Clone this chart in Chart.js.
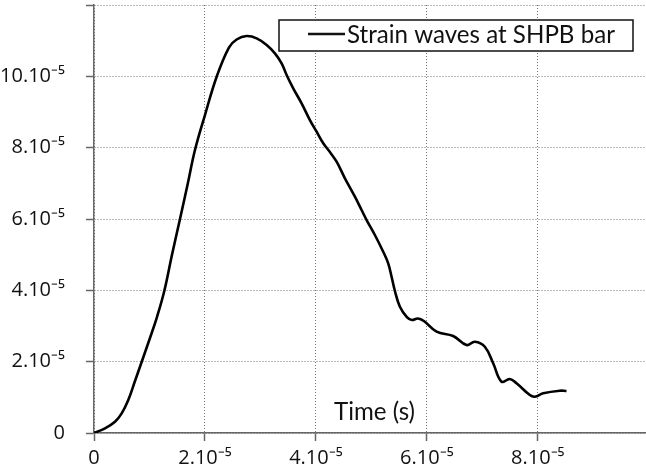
<!DOCTYPE html>
<html>
<head>
<meta charset="utf-8">
<script src="https://cdn.jsdelivr.net/npm/chart.js@4.4.1/dist/chart.umd.min.js"></script>
<style>
  html, body { margin: 0; padding: 0; background: #fff; }
  #wrap { width: 646px; height: 475px; position: relative; }
</style>
</head>
<body>
<div id="wrap"><canvas id="c" width="646" height="475"></canvas></div>
<script>
// Time, in units of 1e-5 s
const timeValues = [0, 0.198, 0.378, 0.499, 0.618, 0.739, 0.865, 1.009, 1.135, 1.267, 1.405, 1.550, 1.685, 1.820, 2.000, 2.211, 2.432, 2.571, 2.751, 2.932, 3.112, 3.261, 3.382, 3.472, 3.591, 3.742, 3.892, 4.013, 4.132, 4.252, 4.373, 4.523, 4.703, 4.823, 4.914, 5.063, 5.213, 5.303, 5.364, 5.423, 5.514, 5.640, 5.730, 5.838, 5.946, 6.175, 6.474, 6.715, 6.865, 7.045, 7.195, 7.346, 7.495, 7.616, 7.856, 7.946, 8.096, 8.396, 8.517];
// Strain, in units of 1e-5
const strainValues = [0, 0.132, 0.317, 0.552, 0.925, 1.458, 2.019, 2.663, 3.252, 3.981, 4.990, 5.999, 6.953, 7.934, 8.915, 9.989, 10.808, 11.032, 11.130, 11.066, 10.878, 10.645, 10.365, 10.037, 9.664, 9.243, 8.775, 8.447, 8.122, 7.878, 7.606, 7.141, 6.625, 6.252, 5.971, 5.551, 5.082, 4.758, 4.382, 3.989, 3.541, 3.252, 3.168, 3.210, 3.140, 2.840, 2.719, 2.467, 2.560, 2.419, 1.954, 1.438, 1.514, 1.393, 1.065, 1.018, 1.113, 1.186, 1.177];
const seriesLabel = 'Strain waves at SHPB bar';
const xAxisTitle = 'Time (s)';
const xTickValues = [0, 2, 4, 6, 8];
const xTickLabels = ['0', '2.10\u207B\u2075', '4.10\u207B\u2075', '6.10\u207B\u2075', '8.10\u207B\u2075'];
const yTickValues = [0, 2, 4, 6, 8, 10, 12];
const yTickLabels = ['0', '2.10\u207B\u2075', '4.10\u207B\u2075', '6.10\u207B\u2075', '8.10\u207B\u2075', '10.10\u207B\u2075', ''];

const points = timeValues.map((t, i) => ({ x: t, y: strainValues[i] }));

function fitFont(ctx, text, family, targetWidth) {
  let size = 24;
  ctx.font = size + 'px ' + family;
  const w = ctx.measureText(text).width;
  return size * targetWidth / w;
}

const overlayPlugin = {
  id: 'overlay',
  afterDraw(chart) {
    const ctx = chart.ctx;
    ctx.save();
    const fam = 'Lato, "Open Sans", sans-serif';
    let s = fitFont(ctx, xAxisTitle, fam, 81);
    ctx.font = s + 'px ' + fam;
    ctx.fillStyle = '#111';
    ctx.textBaseline = 'middle';
    ctx.textAlign = 'left';
    ctx.fillText(xAxisTitle, 334, 412);

    const bx = 279, by = 20, bw = 354, bh = 31;
    ctx.fillStyle = '#fff';
    ctx.fillRect(bx, by, bw, bh);
    ctx.lineWidth = 1.5;
    ctx.strokeStyle = '#111';
    ctx.strokeRect(bx, by, bw, bh);
    ctx.beginPath();
    ctx.lineWidth = 2.5;
    ctx.moveTo(308, 34);
    ctx.lineTo(345, 34);
    ctx.stroke();
    s = fitFont(ctx, seriesLabel, fam, 268);
    ctx.font = s + 'px ' + fam;
    ctx.fillStyle = '#111';
    ctx.fillText(seriesLabel, 347, 35);
    ctx.restore();
  }
};

new Chart(document.getElementById('c'), {
  type: 'line',
  data: {
    datasets: [{
      label: seriesLabel,
      data: points,
      borderColor: '#000',
      borderWidth: 2.6,
      pointRadius: 0,
      tension: 0.4,
      fill: false
    }]
  },
  options: {
    responsive: false,
    animation: false,
    devicePixelRatio: 1,
    layout: { padding: { top: 5, right: 0, left: 0, bottom: 0 } },
    plugins: { legend: { display: false }, tooltip: { enabled: false } },
    scales: {
      x: {
        type: 'linear',
        min: 0,
        max: 9.95,
        afterBuildTicks: (sc) => { sc.ticks = xTickValues.map(v => ({ value: v })); },
        afterFit: (sc) => { sc.height = 42; sc.paddingLeft = 0; sc.paddingRight = 0; },
        ticks: {
          autoSkip: false,
          maxRotation: 0,
          padding: 5,
          color: '#111',
          font: { family: '"Open Sans", sans-serif', size: 20 },
          callback: (v) => { const i = xTickValues.indexOf(v); return i >= 0 ? xTickLabels[i] : ''; }
        },
        grid: { color: '#777', lineWidth: 1, tickLength: 8, tickColor: '#666', tickWidth: 1.5 },
        border: { display: true, color: '#666', width: 1.5, dash: [1, 2] }
      },
      y: {
        type: 'linear',
        min: 0,
        max: 12,
        afterBuildTicks: (sc) => { sc.ticks = yTickValues.map(v => ({ value: v })); },
        afterFit: (sc) => { sc.width = 94; sc.paddingTop = 0; sc.paddingBottom = 0; },
        ticks: {
          autoSkip: false,
          padding: 21,
          color: '#111',
          font: { family: '"Open Sans", sans-serif', size: 20 },
          callback: (v) => { const i = yTickValues.indexOf(v); return i >= 0 ? yTickLabels[i] : ''; }
        },
        grid: { color: '#777', lineWidth: 1, tickLength: 8, tickColor: '#666', tickWidth: 1.5 },
        border: { display: true, color: '#666', width: 1.5, dash: [1, 2] }
      }
    }
  },
  plugins: [overlayPlugin]
});
</script>
</body>
</html>
